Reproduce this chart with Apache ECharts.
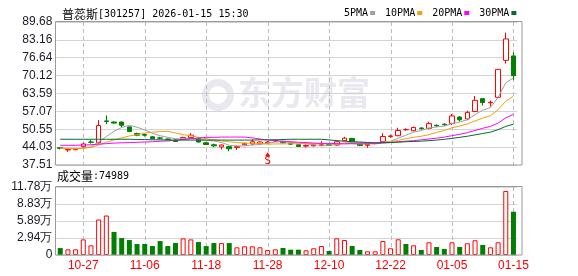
<!DOCTYPE html>
<html>
<head>
<meta charset="utf-8">
<script src="https://cdn.jsdelivr.net/npm/echarts@6/dist/echarts.min.js"></script>
<style>
html,body{margin:0;padding:0;background:#fff;}
#c{width:578px;height:276px;}
</style>
</head>
<body>
<div id="c"></div>
<script>
const stockName = '普蕊斯';
const stockCode = '301257';
const stampTime = '2026-01-15 15:30';
const maNames = ['5PMA', '10PMA', '20PMA', '30PMA'];

const dates = ['10-22','10-23','10-24','10-27','10-28','10-29','10-30','10-31',
  '11-03','11-04','11-05','11-06','11-07','11-10','11-11','11-12','11-13','11-14','11-17','11-18','11-19','11-20','11-21','11-24','11-25','11-26','11-27','11-28',
  '12-01','12-02','12-03','12-04','12-05','12-08','12-09','12-10','12-11','12-12','12-15','12-16','12-17','12-18','12-19','12-22','12-23','12-24','12-25','12-26','12-29','12-30','12-31',
  '01-05','01-06','01-07','01-08','01-09','01-12','01-13','01-14','01-15'];

const opens  = [43.8,43.0,43.1,44.2,45.9,45.6,53.6,53.2,53.2,51.4,49.0,48.6,47.8,47.4,47.0,46.6,46.9,47.5,47.3,45.6,44.9,44.1,44.2,43.9,44.9,45.2,45.3,45.6,
  46.2,46.1,45.5,44.9,44.4,44.5,44.6,45.0,44.8,46.4,47.2,45.1,44.7,45.3,46.0,47.9,48.2,50.4,50.0,51.0,50.9,52.0,52.4,
  52.7,55.0,54.3,57.0,61.7,60.2,62.2,75.7,77.3];
const closes = [43.6,43.2,43.3,45.2,45.8,51.9,53.4,52.8,52.0,49.7,48.4,48.4,47.1,47.3,46.8,46.1,47.5,48.4,45.9,45.0,44.5,44.8,43.4,44.3,45.4,46.0,45.9,45.9,
  46.5,45.6,45.1,44.3,44.6,44.8,44.9,44.7,46.0,47.3,46.1,44.6,45.1,45.5,47.9,48.1,50.1,50.4,51.2,50.8,52.6,51.8,52.2,
  55.4,54.0,56.7,61.1,60.3,60.4,72.4,83.5,70.1];
const lows   = [43.2,42.3,42.9,43.9,45.3,45.3,52.4,52.6,51.3,49.5,48.0,47.9,46.9,46.9,46.6,46.0,46.6,47.3,45.7,44.8,44.0,43.2,42.5,43.0,44.7,44.8,44.8,45.4,
  45.9,45.4,44.9,44.1,43.9,44.3,44.4,44.5,44.6,46.2,45.9,44.4,43.8,45.1,45.8,47.5,48.0,50.0,49.8,50.4,50.5,51.4,51.8,
  52.1,53.4,53.9,56.8,59.2,58.8,62.0,74.5,68.5];
const highs  = [44.1,43.4,43.6,45.6,46.6,53.9,55.6,53.4,53.3,51.6,49.3,49.0,48.0,47.8,47.2,46.9,47.8,49.1,47.5,45.8,45.3,45.0,44.4,44.6,45.6,46.9,46.2,46.1,
  46.9,46.3,45.7,45.1,45.0,45.1,46.2,45.2,46.5,47.8,47.4,45.3,45.3,45.8,49.1,48.6,51.1,50.9,51.5,51.3,53.3,52.3,52.7,
  56.1,55.4,57.3,62.7,61.8,61.0,72.5,85.8,78.6];

const ma5  = [43.7,43.5,43.4,43.6,44.2,45.9,47.9,49.8,51.2,52.0,51.3,50.3,49.1,48.2,47.6,47.1,47.0,47.2,46.9,46.6,46.3,45.7,44.7,44.4,44.5,44.8,45.0,45.5,
  45.9,46.0,45.8,45.5,45.2,44.9,44.7,44.7,45.0,45.5,45.8,45.7,45.8,45.7,45.8,46.2,47.3,48.4,49.5,50.1,51.0,51.4,51.7,
  52.6,53.2,54.0,55.9,57.5,58.5,62.2,67.5,69.3];
const ma10 = [43.6,43.5,43.5,43.6,44.0,44.8,45.8,46.7,47.4,48.1,48.6,49.1,49.5,49.7,49.8,49.2,48.6,48.2,47.6,47.1,46.7,46.3,46.0,45.7,45.5,45.5,45.4,45.1,
  45.2,45.2,45.3,45.2,45.4,45.4,45.4,45.2,45.2,45.4,45.3,45.2,45.2,45.4,45.7,46.0,46.5,47.1,47.6,48.0,48.6,49.4,50.1,
  51.1,51.7,52.5,53.6,54.6,55.5,57.7,60.8,62.6];
const ma20 = [44.7,44.7,44.7,44.8,44.9,45.1,45.3,45.5,45.6,45.7,45.8,45.9,46.0,46.2,46.3,46.5,46.8,47.1,47.3,47.6,47.6,47.7,47.7,47.7,47.7,47.4,47.0,46.6,
  46.4,46.2,46.0,45.8,45.7,45.5,45.4,45.4,45.3,45.2,45.3,45.2,45.3,45.3,45.5,45.7,46.0,46.2,46.4,46.7,47.0,47.3,47.7,
  48.2,48.7,49.3,50.1,50.9,51.6,52.8,54.7,56.0];
const ma30 = [46.9,46.9,46.9,46.9,46.9,46.9,46.9,46.9,46.9,46.9,46.8,46.8,46.7,46.7,46.6,46.6,46.6,46.6,46.6,46.6,46.6,46.6,46.6,46.6,46.6,46.6,46.7,46.7,
  46.7,46.8,46.9,46.9,46.9,46.9,46.9,46.65,46.4,46.2,46.0,45.9,45.7,45.6,45.7,45.7,45.8,46.0,46.1,46.2,46.4,46.6,46.9,
  47.2,47.6,48.0,48.5,49.0,49.5,50.4,51.6,52.4];

const volumes = [12000,9800,9800,27000,16700,61500,68400,40000,29300,25900,19000,19000,15500,24100,15500,20700,28700,27000,22400,15500,20700,20700,20700,13300,15000,15000,13300,8600,
  9800,12100,9200,9200,8100,11600,15600,6900,28900,26000,15600,8700,6400,6400,24300,11600,27200,19100,16800,8700,22000,13900,10400,
  22000,13900,20300,25500,17300,13300,22000,110900,74989];
const volumeUp = [0,1,1,1,1,1,1,0,0,0,0,0,0,0,0,0,1,1,0,0,0,1,0,1,1,1,1,1,
  1,0,0,0,1,1,1,0,1,1,0,0,1,1,1,1,1,0,1,0,1,0,0,
  1,0,1,1,0,1,1,1,0];

const priceTicks = [37.51,44.03,50.55,57.07,63.59,70.12,76.64,83.16,89.68];
const volumeTicks = [0,29450,58900,88350,117800];
const volumeTickLabels = ['0','2.94万','5.89万','8.83万','11.78万'];
const labelDates = ['10-27','11-06','11-18','11-28','12-10','12-22','01-05','01-15'];
const signalDate = '11-28';
const signalText = 'S';

const RED = '#ff0000', GREEN = '#008000';
const maColors = ['#a0a0a0','#f0a30a','#ff00ff','#006e2e'];
const gridL = 56.4, gridW = 460.9;

const chart = echarts.init(document.getElementById('c'), null, {renderer:'canvas'});
const sigIdx = dates.indexOf(signalDate);
const labelIdx = labelDates.map(d => dates.indexOf(d));
const maData = [ma5, ma10, ma20, ma30];

const baseGraphic = [
  {type:'text', left: 238, top: 76, z: -10, silent: true,
   style:{text:'东方财富', fontFamily:'Noto Sans CJK SC', fontSize:33, fontWeight:'bold', fill:'#e8e8ee'}},
  {type:'ring', z:-10, silent:true, shape:{cx:218, cy:95, r:16, r0:9}, style:{fill:'#e8e8ee'}},
  {type:'rect', z: 50, silent:true, shape:{x:55.5, y:21.5, width:466.5, height:143.5}, style:{fill:'none', stroke:'#9a9a9a', lineWidth:1}},
  {type:'rect', z: 50, silent:true, shape:{x:55.5, y:186.5, width:466.5, height:68.5}, style:{fill:'none', stroke:'#9a9a9a', lineWidth:1}},
  {type:'text', left: 57, top: 170, silent:true,
   style:{text:'{a|成交量}{b|:' + volumes[volumes.length-1] + '}',
     rich:{a:{fontFamily:'Noto Sans CJK SC', fontSize:12, fill:'#000'}, b:{fontFamily:'DejaVu Sans Mono', fontSize:10, fill:'#000'}}}}
];

const option = {
  animation: false,
  backgroundColor: '#fff',
  title: {
    left: 57, top: 2,
    text: '{a|' + stockName + '}{b|[' + stockCode + '] ' + stampTime + '}',
    textStyle: {
      fontWeight: 'normal',
      rich: {
        a: {fontFamily:'Noto Sans CJK SC', fontSize:12, fontWeight:'normal', color:'#000', lineHeight:14},
        b: {fontFamily:'DejaVu Sans Mono', fontSize:10, fontWeight:'normal', color:'#000', lineHeight:14}
      }
    }
  },
  legend: {
    left: 339, top: 3, align: 'right', icon: 'rect',
    itemWidth: 5, itemHeight: 4, itemGap: 10,
    selectedMode: false,
    textStyle: {fontFamily:'DejaVu Sans Mono', fontSize:10, color:'#000', padding:[0,-3,0,0]},
    data: maNames
  },
  graphic: baseGraphic,
  grid: [
    {left: gridL, width: gridW, top: 22, height: 143},
    {left: gridL, width: gridW, top: 187, height: 68}
  ],
  xAxis: [
    {type:'category', gridIndex:0, data: dates, boundaryGap:true,
     axisLine:{show:false}, axisTick:{show:false}, axisLabel:{show:false}, splitLine:{show:false}},
    {type:'category', gridIndex:1, data: dates, boundaryGap:true,
     axisLine:{show:false}, axisTick:{show:false}, splitLine:{show:false},
     axisLabel:{show:true, interval:(i, v) => labelDates.indexOf(v) >= 0, color:RED,
       fontFamily:'Liberation Sans', fontSize:12, margin:5}}
  ],
  yAxis: [
    {type:'value', gridIndex:0, min: priceTicks[0], max: priceTicks[priceTicks.length-1],
     axisLine:{show:false},
     axisTick:{show:false, customValues: priceTicks},
     axisLabel:{customValues: priceTicks, formatter: v => v.toFixed(2), color:'#1a1a2a',
       fontFamily:'Liberation Sans', fontSize:12, margin:4},
     splitLine:{show:true, lineStyle:{color:'#d4d4d4', width:1}}},
    {type:'value', gridIndex:1, min: 0, max: volumeTicks[volumeTicks.length-1], interval: volumeTicks[1],
     axisLine:{show:false}, axisTick:{show:false},
     axisLabel:{formatter: v => volumeTickLabels[volumeTicks.indexOf(v)] || '', color:'#1a1a2a',
       fontFamily:'Liberation Sans', fontSize:12, margin:4},
     splitLine:{show:true, lineStyle:{color:'#d4d4d4', width:1}}}
  ],
  series: [
    {type:'candlestick', name:'K', xAxisIndex:0, yAxisIndex:0, barWidth:5, z:2,
     data: dates.map((d, i) => [opens[i], closes[i], lows[i], highs[i]]),
     itemStyle:{color:'#fff', color0:GREEN, borderColor:RED, borderColor0:GREEN, borderWidth:1},
     markPoint: {
       symbol:'triangle', symbolSize:[5,4], symbolOffset:[0, 11],
       itemStyle:{color:RED},
       label:{show:true, formatter: signalText, position:'bottom', distance:0, color:RED,
         fontFamily:'DejaVu Sans', fontSize:10},
       data:[{coord:[sigIdx, lows[sigIdx]]}]
     }
    },
    ...maNames.map((n, k) => ({
      type:'line', name:n, xAxisIndex:0, yAxisIndex:0, data: maData[k], z:3,
      symbol:'none', smooth:false, color: maColors[k],
      lineStyle:{width:1, color: maColors[k]}, emphasis:{disabled:true}
    })),
    {type:'bar', name:'VOL', xAxisIndex:1, yAxisIndex:1, barWidth:5, z:2,
     data: volumes.map((v, i) => ({value: v,
       itemStyle: volumeUp[i] ? {color:'#fff', borderColor:RED, borderWidth:1} : {color:GREEN}}))
    }
  ]
};
chart.setOption(option);

// dashed vertical date lines: x from the category axis, y-extent from the value axes
function px(finder, value) {
  const r = chart.convertToPixel(finder, value);
  return (typeof r === 'number' && isFinite(r)) ? r : NaN;
}
const dashLines = [];
labelDates.forEach((d, k) => {
  let x = px({xAxisIndex:0}, d);
  if (!isFinite(x)) x = px({xAxisIndex:0}, labelIdx[k]);
  if (!isFinite(x)) return;
  x = Math.round(x) + 0.5;
  const spans = [
    [px({yAxisIndex:0}, priceTicks[priceTicks.length-1]), px({yAxisIndex:0}, priceTicks[0])],
    [px({yAxisIndex:1}, volumeTicks[volumeTicks.length-1]), px({yAxisIndex:1}, volumeTicks[0])]
  ];
  spans.forEach(([y1, y2]) => {
    if (!isFinite(y1) || !isFinite(y2)) return;
    dashLines.push({type:'line', z:1, silent:true,
      shape:{x1:x, y1:y1, x2:x, y2:y2},
      style:{stroke:'#bcbcbc', lineWidth:1, lineDash:[4,3]}});
  });
});
chart.setOption({graphic: baseGraphic.concat(dashLines)});
</script>
</body>
</html>
